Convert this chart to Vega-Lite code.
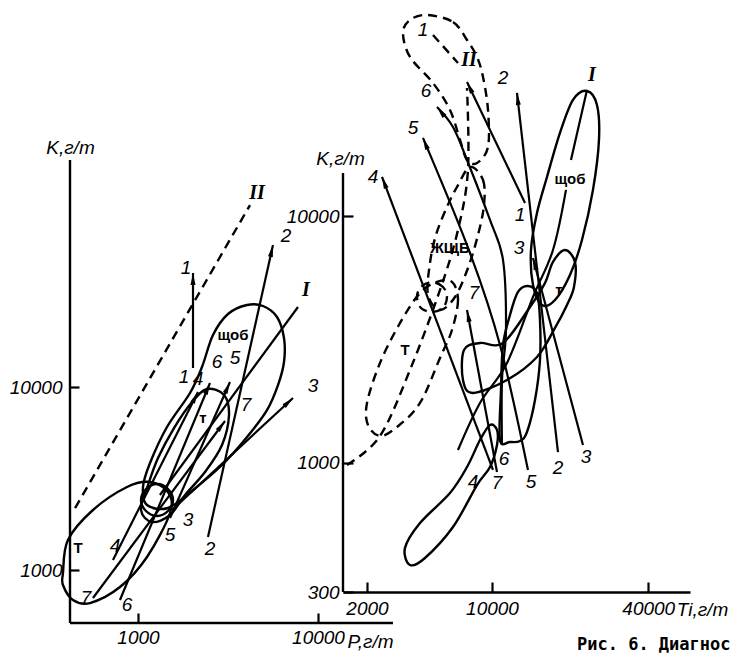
{
  "$schema": "https://vega.github.io/schema/vega-lite/v6.json",
  "padding": {"left": 9, "top": 10, "right": 0, "bottom": 0},
  "background": "white",
  "bounds": "flush",
  "spacing": 13,
  "config": {
    "view": {"stroke": null},
    "axis": {"labelColor": "black", "tickColor": "black", "grid": false, "labelFlush": false, "labelOverlap": false,
      "labelFont": "Liberation Sans", "labelFontStyle": "italic", "labelFontSize": 19,
      "titleFont": "Liberation Sans", "titleFontStyle": "italic", "titleFontWeight": "normal", "titleFontSize": 19, "titleColor": "black",
      "tickWidth": 2.2}
  },
  "datasets": {
    "Laxis": [
      {"x": 419, "x2": 419, "y": 173800, "y2": 513.4},
      {"x": 419, "x2": 26100, "y": 513.4, "y2": 513.4}
    ],
    "Lclosed": [
      {"id": "C", "i": 0, "x": 383, "y": 963}, {"id": "C", "i": 1, "x": 408, "y": 1459}, {"id": "C", "i": 2, "x": 562, "y": 2128},
      {"id": "C", "i": 3, "x": 869, "y": 2842}, {"id": "C", "i": 4, "x": 1166, "y": 3026}, {"id": "C", "i": 5, "x": 1468, "y": 2668},
      {"id": "C", "i": 6, "x": 1506, "y": 2049}, {"id": "C", "i": 7, "x": 1122, "y": 1178}, {"id": "C", "i": 8, "x": 794, "y": 807},
      {"id": "C", "i": 9, "x": 541, "y": 660}, {"id": "C", "i": 10, "x": 435, "y": 686}, {"id": "C", "i": 11, "x": 383, "y": 828},
      {"id": "A", "i": 0, "x": 2417, "y": 9752}, {"id": "A", "i": 1, "x": 3005, "y": 9044}, {"id": "A", "i": 2, "x": 3203, "y": 7031},
      {"id": "A", "i": 3, "x": 2929, "y": 4821}, {"id": "A", "i": 4, "x": 2356, "y": 3432}, {"id": "A", "i": 5, "x": 1825, "y": 2570},
      {"id": "A", "i": 6, "x": 1506, "y": 1998}, {"id": "A", "i": 7, "x": 1196, "y": 1829}, {"id": "A", "i": 8, "x": 1039, "y": 2128},
      {"id": "A", "i": 9, "x": 1137, "y": 2914}, {"id": "A", "i": 10, "x": 1292, "y": 4093}, {"id": "A", "i": 11, "x": 1585, "y": 5970},
      {"id": "A", "i": 12, "x": 1995, "y": 8279},
      {"id": "O", "i": 0, "x": 1565, "y": 2413}, {"id": "O", "i": 1, "x": 1468, "y": 2771}, {"id": "O", "i": 2, "x": 1275, "y": 2951},
      {"id": "O", "i": 3, "x": 1108, "y": 2771}, {"id": "O", "i": 4, "x": 1039, "y": 2413}, {"id": "O", "i": 5, "x": 1108, "y": 2101},
      {"id": "O", "i": 6, "x": 1275, "y": 1973}, {"id": "O", "i": 7, "x": 1468, "y": 2101},
      {"id": "B", "i": 0, "x": 1122, "y": 2265}, {"id": "B", "i": 1, "x": 1066, "y": 2842}, {"id": "B", "i": 2, "x": 1166, "y": 3843},
      {"id": "B", "i": 3, "x": 1449, "y": 6045}, {"id": "B", "i": 4, "x": 1945, "y": 9273}, {"id": "B", "i": 5, "x": 2267, "y": 12860},
      {"id": "B", "i": 6, "x": 2610, "y": 19240}, {"id": "B", "i": 7, "x": 3162, "y": 25060}, {"id": "B", "i": 8, "x": 4033, "y": 28060},
      {"id": "B", "i": 9, "x": 4948, "y": 27710}, {"id": "B", "i": 10, "x": 5919, "y": 24130}, {"id": "B", "i": 11, "x": 6473, "y": 18530},
      {"id": "B", "i": 12, "x": 6473, "y": 13700}, {"id": "B", "i": 13, "x": 5995, "y": 10250}, {"id": "B", "i": 14, "x": 5208, "y": 7486},
      {"id": "B", "i": 15, "x": 4033, "y": 5332}, {"id": "B", "i": 16, "x": 2929, "y": 3748}, {"id": "B", "i": 17, "x": 2021, "y": 2736},
      {"id": "B", "i": 18, "x": 1468, "y": 2182}
    ],
    "Lopen": [
      {"id": "I", "i": 0, "x": 1324, "y": 2570}, {"id": "I", "i": 1, "x": 7743, "y": 27360},
      {"id": "a1", "i": 0, "x": 2021, "y": 12700}, {"id": "a1", "i": 1, "x": 2021, "y": 41980},
      {"id": "a2", "i": 0, "x": 2448, "y": 1515}, {"id": "a2", "i": 1, "x": 5623, "y": 59700},
      {"id": "a3", "i": 0, "x": 1545, "y": 2128}, {"id": "a3", "i": 1, "x": 7262, "y": 8708},
      {"id": "a4", "i": 0, "x": 726, "y": 1134}, {"id": "a4", "i": 1, "x": 2154, "y": 9391},
      {"id": "a5", "i": 0, "x": 1506, "y": 1924}, {"id": "a5", "i": 1, "x": 3244, "y": 10650},
      {"id": "a6", "i": 0, "x": 794, "y": 686}, {"id": "a6", "i": 1, "x": 2512, "y": 10520},
      {"id": "a7", "i": 0, "x": 562, "y": 703}, {"id": "a7", "i": 1, "x": 3043, "y": 6521}
    ],
    "Ldash": [
      {"id": "II", "i": 0, "x": 447, "y": 2180}, {"id": "II", "i": 1, "x": 4190, "y": 98700}
    ],
    "Lheads": [
      {"x": 2021, "y": 41980, "a": 0}, {"x": 5623, "y": 59700, "a": 12.5}, {"x": 7262, "y": 8708, "a": 47.2},
      {"x": 2154, "y": 9391, "a": 26.8}, {"x": 3244, "y": 10650, "a": 23.8}, {"x": 2512, "y": 10520, "a": 22.5},
      {"x": 3043, "y": 6521, "a": 36.7}
    ],
    "Lnum": [
      {"x": 1849, "y": 44670, "t": "1"}, {"x": 1801, "y": 11340, "t": "1"},
      {"x": 6642, "y": 66860, "t": "2"}, {"x": 2512, "y": 1302, "t": "2"},
      {"x": 9380, "y": 10130, "t": "3"}, {"x": 1896, "y": 1876, "t": "3"},
      {"x": 2154, "y": 11060, "t": "4"}, {"x": 745, "y": 1352, "t": "4"},
      {"x": 3458, "y": 14400, "t": "5"}, {"x": 1506, "y": 1554, "t": "5"},
      {"x": 2747, "y": 13700, "t": "6"}, {"x": 869, "y": 644, "t": "6"},
      {"x": 3981, "y": 7973, "t": "7"}, {"x": 514, "y": 703, "t": "7"}
    ],
    "Lzone": [
      {"x": 3372, "y": 19240, "t": "щоб"}, {"x": 2297, "y": 6768, "t": "т"}, {"x": 464, "y": 1319, "t": "Т"}
    ],
    "Lroman": [
      {"x": 4581, "y": 114800, "t": "II"}, {"x": 8577, "y": 33900, "t": "I"}
    ],
    "Raxis": [
      {"x": 1341, "x2": 1341, "y": 300, "y2": 14980}
    ],
    "Rclosed": [
      {"id": "E", "i": 0, "x": 24555, "y": 32200}, {"id": "E", "i": 1, "x": 26700, "y": 28260}, {"id": "E", "i": 2, "x": 27146, "y": 20390},
      {"id": "E", "i": 3, "x": 25825, "y": 12790}, {"id": "E", "i": 4, "x": 23528, "y": 8015}, {"id": "E", "i": 5, "x": 21204, "y": 5782},
      {"id": "E", "i": 6, "x": 18547, "y": 4578}, {"id": "E", "i": 7, "x": 16451, "y": 4370}, {"id": "E", "i": 8, "x": 15110, "y": 5267},
      {"id": "E", "i": 9, "x": 14823, "y": 7300}, {"id": "E", "i": 10, "x": 15695, "y": 10310}, {"id": "E", "i": 11, "x": 17236, "y": 14430},
      {"id": "E", "i": 12, "x": 19400, "y": 21760}, {"id": "E", "i": 13, "x": 21771, "y": 29610},
      {"id": "T", "i": 0, "x": 20292, "y": 7300}, {"id": "T", "i": 1, "x": 22153, "y": 6528}, {"id": "T", "i": 2, "x": 21958, "y": 5169},
      {"id": "T", "i": 3, "x": 20653, "y": 4370}, {"id": "T", "i": 4, "x": 18547, "y": 3526}, {"id": "T", "i": 5, "x": 15695, "y": 2690},
      {"id": "T", "i": 6, "x": 11690, "y": 2170}, {"id": "T", "i": 7, "x": 8135, "y": 1922}, {"id": "T", "i": 8, "x": 7261, "y": 2170},
      {"id": "T", "i": 9, "x": 7347, "y": 2872}, {"id": "T", "i": 10, "x": 8787, "y": 3065}, {"id": "T", "i": 11, "x": 11220, "y": 3065},
      {"id": "T", "i": 12, "x": 14680, "y": 4289}, {"id": "T", "i": 13, "x": 16919, "y": 5366}, {"id": "T", "i": 14, "x": 18212, "y": 6528},
      {"id": "X", "i": 0, "x": 10876, "y": 1239}, {"id": "X", "i": 1, "x": 10991, "y": 1977}, {"id": "X", "i": 2, "x": 11220, "y": 3008},
      {"id": "X", "i": 3, "x": 12050, "y": 3980}, {"id": "X", "i": 4, "x": 13053, "y": 4934}, {"id": "X", "i": 5, "x": 14398, "y": 5218},
      {"id": "X", "i": 6, "x": 15695, "y": 4887}, {"id": "X", "i": 7, "x": 16145, "y": 3799}, {"id": "X", "i": 8, "x": 16145, "y": 2616},
      {"id": "X", "i": 9, "x": 15400, "y": 1800}, {"id": "X", "i": 10, "x": 14261, "y": 1335}, {"id": "X", "i": 11, "x": 13316, "y": 1228},
      {"id": "X", "i": 12, "x": 12050, "y": 1217},
      {"id": "W", "i": 0, "x": 3753, "y": 386}, {"id": "W", "i": 1, "x": 3504, "y": 452}, {"id": "W", "i": 2, "x": 4288, "y": 571},
      {"id": "W", "i": 3, "x": 6238, "y": 756}, {"id": "W", "i": 4, "x": 7604, "y": 963}, {"id": "W", "i": 5, "x": 8787, "y": 1239},
      {"id": "W", "i": 6, "x": 9790, "y": 1426}, {"id": "W", "i": 7, "x": 10543, "y": 1361}, {"id": "W", "i": 8, "x": 10543, "y": 1183},
      {"id": "W", "i": 9, "x": 9790, "y": 963}, {"id": "W", "i": 10, "x": 8504, "y": 814}, {"id": "W", "i": 11, "x": 6463, "y": 550},
      {"id": "W", "i": 12, "x": 4574, "y": 412}
    ],
    "Rdashclosed": [
      {"id": "top", "i": 0, "x": 4693, "y": 65460}, {"id": "top", "i": 1, "x": 6463, "y": 61310}, {"id": "top", "i": 2, "x": 7604, "y": 51830},
      {"id": "top", "i": 3, "x": 8504, "y": 44230}, {"id": "top", "i": 4, "x": 9082, "y": 36690}, {"id": "top", "i": 5, "x": 9583, "y": 26970},
      {"id": "top", "i": 6, "x": 9583, "y": 19090}, {"id": "top", "i": 7, "x": 8504, "y": 16450}, {"id": "top", "i": 8, "x": 7604, "y": 16910},
      {"id": "top", "i": 9, "x": 7016, "y": 20390}, {"id": "top", "i": 10, "x": 6238, "y": 26970}, {"id": "top", "i": 11, "x": 5065, "y": 34700},
      {"id": "top", "i": 12, "x": 3753, "y": 44230}, {"id": "top", "i": 13, "x": 3409, "y": 55340}, {"id": "top", "i": 14, "x": 3753, "y": 62460},
      {"id": "U", "i": 0, "x": 7865, "y": 15840}, {"id": "U", "i": 1, "x": 9082, "y": 14030}, {"id": "U", "i": 2, "x": 9179, "y": 11110},
      {"id": "U", "i": 3, "x": 8597, "y": 8400}, {"id": "U", "i": 4, "x": 7688, "y": 6171}, {"id": "U", "i": 5, "x": 6617, "y": 4709},
      {"id": "U", "i": 6, "x": 5527, "y": 4171}, {"id": "U", "i": 7, "x": 4755, "y": 4797}, {"id": "U", "i": 8, "x": 4878, "y": 6467},
      {"id": "U", "i": 9, "x": 5259, "y": 8400}, {"id": "U", "i": 10, "x": 6016, "y": 10910}, {"id": "U", "i": 11, "x": 6774, "y": 13140},
      {"id": "L", "i": 0, "x": 6388, "y": 5417}, {"id": "L", "i": 1, "x": 6854, "y": 4578}, {"id": "L", "i": 2, "x": 6388, "y": 3460},
      {"id": "L", "i": 3, "x": 5527, "y": 2665}, {"id": "L", "i": 4, "x": 4288, "y": 1751}, {"id": "L", "i": 5, "x": 3134, "y": 1399},
      {"id": "L", "i": 6, "x": 2445, "y": 1287}, {"id": "L", "i": 7, "x": 2031, "y": 1426}, {"id": "L", "i": 8, "x": 2000, "y": 1751},
      {"id": "L", "i": 9, "x": 2445, "y": 2544}, {"id": "L", "i": 10, "x": 3270, "y": 3694}, {"id": "L", "i": 11, "x": 4288, "y": 4887},
      {"id": "L", "i": 12, "x": 5325, "y": 5417},
      {"id": "c", "i": 0, "x": 6016, "y": 4709}, {"id": "c", "i": 1, "x": 5732, "y": 5169}, {"id": "c", "i": 2, "x": 5003, "y": 5417},
      {"id": "c", "i": 3, "x": 4343, "y": 5169}, {"id": "c", "i": 4, "x": 4121, "y": 4709}, {"id": "c", "i": 5, "x": 4343, "y": 4249},
      {"id": "c", "i": 6, "x": 5003, "y": 4094}, {"id": "c", "i": 7, "x": 5732, "y": 4249}
    ],
    "Ropen": [
      {"id": "I", "i": 0, "x": 24555, "y": 32510}, {"id": "I", "i": 1, "x": 21392, "y": 16910},
      {"id": "I2", "i": 0, "x": 20469, "y": 12790}, {"id": "I2", "i": 1, "x": 18212, "y": 7300}, {"id": "I2", "i": 2, "x": 15110, "y": 4709},
      {"id": "I2", "i": 3, "x": 11690, "y": 2544}, {"id": "I2", "i": 4, "x": 8787, "y": 1751}, {"id": "I2", "i": 5, "x": 6854, "y": 1129},
      {"id": "a1", "i": 0, "x": 13987, "y": 11320}, {"id": "a1", "i": 1, "x": 7604, "y": 35030},
      {"id": "a2", "i": 0, "x": 19055, "y": 1108}, {"id": "a2", "i": 1, "x": 12927, "y": 31610},
      {"id": "a3", "i": 0, "x": 23734, "y": 1183}, {"id": "a3", "i": 1, "x": 15110, "y": 6776},
      {"id": "a4", "i": 0, "x": 10108, "y": 937}, {"id": "a4", "i": 1, "x": 2520, "y": 14430},
      {"id": "a5", "i": 0, "x": 14398, "y": 937}, {"id": "a5", "i": 1, "x": 10876, "y": 3008}, {"id": "a5", "i": 2, "x": 7865, "y": 7098},
      {"id": "a5", "i": 3, "x": 4458, "y": 20770},
      {"id": "a6", "i": 0, "x": 11103, "y": 1183}, {"id": "a6", "i": 1, "x": 11103, "y": 2170}, {"id": "a6", "i": 2, "x": 11569, "y": 3460},
      {"id": "a6", "i": 3, "x": 11220, "y": 6651}, {"id": "a6", "i": 4, "x": 9790, "y": 9660}, {"id": "a6", "i": 5, "x": 7604, "y": 16910},
      {"id": "a6", "i": 6, "x": 6463, "y": 23010}, {"id": "a6", "i": 7, "x": 5325, "y": 27730},
      {"id": "a7", "i": 0, "x": 10543, "y": 919}, {"id": "a7", "i": 1, "x": 7604, "y": 4171}
    ],
    "Rdash": [
      {"id": "II", "i": 0, "x": 1437, "y": 982}, {"id": "II", "i": 1, "x": 2445, "y": 1287}, {"id": "II", "i": 2, "x": 3753, "y": 2382},
      {"id": "II", "i": 3, "x": 5527, "y": 5026}, {"id": "II", "i": 4, "x": 6854, "y": 8800}, {"id": "II", "i": 5, "x": 7688, "y": 15400},
      {"id": "II", "i": 6, "x": 7604, "y": 33110},
      {"id": "II2", "i": 0, "x": 5065, "y": 54300}, {"id": "II2", "i": 1, "x": 6854, "y": 41830}
    ],
    "Rheads": [
      {"x": 7604, "y": 35030, "a": 334.4}, {"x": 12927, "y": 31610, "a": 353.5}, {"x": 15110, "y": 6776, "a": 345},
      {"x": 2520, "y": 14430, "a": 339.3}, {"x": 4458, "y": 20770, "a": 337.8}, {"x": 5325, "y": 27730, "a": 321.3},
      {"x": 7604, "y": 4171, "a": 349.5}
    ],
    "Rnum": [
      {"x": 8135, "y": 838, "t": "4"}, {"x": 10543, "y": 830, "t": "7"}, {"x": 11334, "y": 1038, "t": "6"},
      {"x": 14823, "y": 838, "t": "5"}, {"x": 19055, "y": 954, "t": "2"}, {"x": 24346, "y": 1058, "t": "3"},
      {"x": 2197, "y": 14430, "t": "4"}, {"x": 3907, "y": 22800, "t": "5"}, {"x": 4635, "y": 32200, "t": "6"},
      {"x": 11220, "y": 36360, "t": "2"}, {"x": 13316, "y": 10120, "t": "1"}, {"x": 13186, "y": 7438, "t": "3"},
      {"x": 8228, "y": 4887, "t": "7"}, {"x": 4458, "y": 56910, "t": "1"}
    ],
    "Rzone": [
      {"x": 6238, "y": 7438, "t": "ЖЩБ"}, {"x": 3504, "y": 2872, "t": "Т"}, {"x": 19230, "y": 5026, "t": "т"},
      {"x": 21204, "y": 14170, "t": "щоб"}
    ],
    "Rroman": [
      {"x": 7778, "y": 43010, "t": "II"}, {"x": 25607, "y": 37400, "t": "I"}
    ],
    "Rcap": [
      {"x": 22541, "y": 174.6, "t": "Рис. 6. Диагнос"}
    ]
  },
  "hconcat": [
    {
      "width": 260,
      "height": 613,
      "encoding": {
        "x": {"field": "x", "type": "quantitative",
          "scale": {"type": "log", "domain": [419, 11659], "nice": false},
          "axis": {"values": [1000, 10000], "format": "d", "domain": false, "tickSize": -10, "labelPadding": 15,
            "title": "P,г/т", "titleX": 300, "titleY": 24, "titleAlign": "center", "titleBaseline": "alphabetic"}},
        "y": {"field": "y", "type": "quantitative",
          "scale": {"type": "log", "domain": [513.4, 1148400], "nice": false},
          "axis": {"values": [1000, 10000], "format": "d", "domain": false, "tickSize": -9, "labelPadding": 17,
            "title": "K,г/т", "titleAngle": 0, "titleX": 0, "titleY": 137, "titleAlign": "center", "titleBaseline": "middle"}}
      },
      "layer": [
        {"data": {"name": "Laxis"}, "mark": {"type": "rule", "color": "black", "strokeWidth": 2.4},
          "encoding": {"x2": {"field": "x2"}, "y2": {"field": "y2"}}},
        {"data": {"name": "Lclosed"}, "mark": {"type": "line", "interpolate": "cardinal-closed", "color": "black", "strokeWidth": 2.4},
          "encoding": {"detail": {"field": "id"}, "order": {"field": "i", "type": "quantitative"}}},
        {"data": {"name": "Lopen"}, "mark": {"type": "line", "color": "black", "strokeWidth": 2.2},
          "encoding": {"detail": {"field": "id"}, "order": {"field": "i", "type": "quantitative"}}},
        {"data": {"name": "Ldash"}, "mark": {"type": "line", "color": "black", "strokeWidth": 2.4, "strokeDash": [9, 6]},
          "encoding": {"detail": {"field": "id"}, "order": {"field": "i", "type": "quantitative"}}},
        {"data": {"name": "Lheads"}, "mark": {"type": "point", "filled": true, "opacity": 1, "color": "black", "size": 100,
            "shape": "M0,0L0.5,2.4L-0.5,2.4Z"},
          "encoding": {"angle": {"field": "a", "type": "quantitative", "scale": null}}},
        {"data": {"name": "Lnum"}, "mark": {"type": "text", "font": "Liberation Sans", "fontStyle": "italic", "fontSize": 19, "color": "black", "align": "center", "baseline": "middle"},
          "encoding": {"text": {"field": "t"}}},
        {"data": {"name": "Lzone"}, "mark": {"type": "text", "font": "Liberation Sans", "fontWeight": "bold", "fontSize": 15, "color": "black", "align": "center", "baseline": "middle"},
          "encoding": {"text": {"field": "t"}}},
        {"data": {"name": "Lroman"}, "mark": {"type": "text", "font": "Liberation Serif", "fontStyle": "italic", "fontWeight": "bold", "fontSize": 20, "color": "black", "align": "center", "baseline": "middle"},
          "encoding": {"text": {"field": "t"}}}
      ]
    },
    {
      "width": 347,
      "height": 582,
      "encoding": {
        "x": {"field": "x", "type": "quantitative",
          "scale": {"type": "pow", "exponent": 0.25, "domain": [1341, 54060], "nice": false, "zero": false},
          "axis": {"values": [2000, 10000, 40000], "format": "d", "domain": true, "domainColor": "black", "domainWidth": 2.4,
            "tickSize": -10, "labelPadding": 17,
            "title": "Ti,г/т", "titleX": 359, "titleY": 17, "titleAlign": "center", "titleBaseline": "middle"}},
        "y": {"field": "y", "type": "quantitative",
          "scale": {"type": "log", "domain": [300, 68550], "nice": false},
          "axis": {"values": [300, 1000, 10000], "format": "d", "domain": false, "tickSize": -10, "labelPadding": 14,
            "title": "K,г/т", "titleAngle": 0, "titleX": -3, "titleY": 148, "titleAlign": "center", "titleBaseline": "middle"}}
      },
      "layer": [
        {"data": {"name": "Raxis"}, "mark": {"type": "rule", "color": "black", "strokeWidth": 2.4},
          "encoding": {"x2": {"field": "x2"}, "y2": {"field": "y2"}}},
        {"data": {"name": "Rclosed"}, "mark": {"type": "line", "interpolate": "cardinal-closed", "color": "black", "strokeWidth": 2.4},
          "encoding": {"detail": {"field": "id"}, "order": {"field": "i", "type": "quantitative"}}},
        {"data": {"name": "Rdashclosed"}, "mark": {"type": "line", "interpolate": "cardinal-closed", "color": "black", "strokeWidth": 2.4, "strokeDash": [9, 6]},
          "encoding": {"detail": {"field": "id"}, "order": {"field": "i", "type": "quantitative"}}},
        {"data": {"name": "Ropen"}, "mark": {"type": "line", "interpolate": "cardinal", "color": "black", "strokeWidth": 2.2},
          "encoding": {"detail": {"field": "id"}, "order": {"field": "i", "type": "quantitative"}}},
        {"data": {"name": "Rdash"}, "mark": {"type": "line", "interpolate": "cardinal", "color": "black", "strokeWidth": 2.4, "strokeDash": [9, 6]},
          "encoding": {"detail": {"field": "id"}, "order": {"field": "i", "type": "quantitative"}}},
        {"data": {"name": "Rheads"}, "mark": {"type": "point", "filled": true, "opacity": 1, "color": "black", "size": 100,
            "shape": "M0,0L0.5,2.4L-0.5,2.4Z"},
          "encoding": {"angle": {"field": "a", "type": "quantitative", "scale": null}}},
        {"data": {"name": "Rnum"}, "mark": {"type": "text", "font": "Liberation Sans", "fontStyle": "italic", "fontSize": 19, "color": "black", "align": "center", "baseline": "middle"},
          "encoding": {"text": {"field": "t"}}},
        {"data": {"name": "Rzone"}, "mark": {"type": "text", "font": "Liberation Sans", "fontWeight": "bold", "fontSize": 15, "color": "black", "align": "center", "baseline": "middle"},
          "encoding": {"text": {"field": "t"}}},
        {"data": {"name": "Rroman"}, "mark": {"type": "text", "font": "Liberation Serif", "fontStyle": "italic", "fontWeight": "bold", "fontSize": 20, "color": "black", "align": "center", "baseline": "middle"},
          "encoding": {"text": {"field": "t"}}},
        {"data": {"name": "Rcap"}, "mark": {"type": "text", "font": "DejaVu Sans Mono", "fontWeight": "bold", "fontSize": 17, "color": "black", "align": "left", "baseline": "alphabetic"},
          "encoding": {"text": {"field": "t"}}}
      ]
    }
  ]
}
